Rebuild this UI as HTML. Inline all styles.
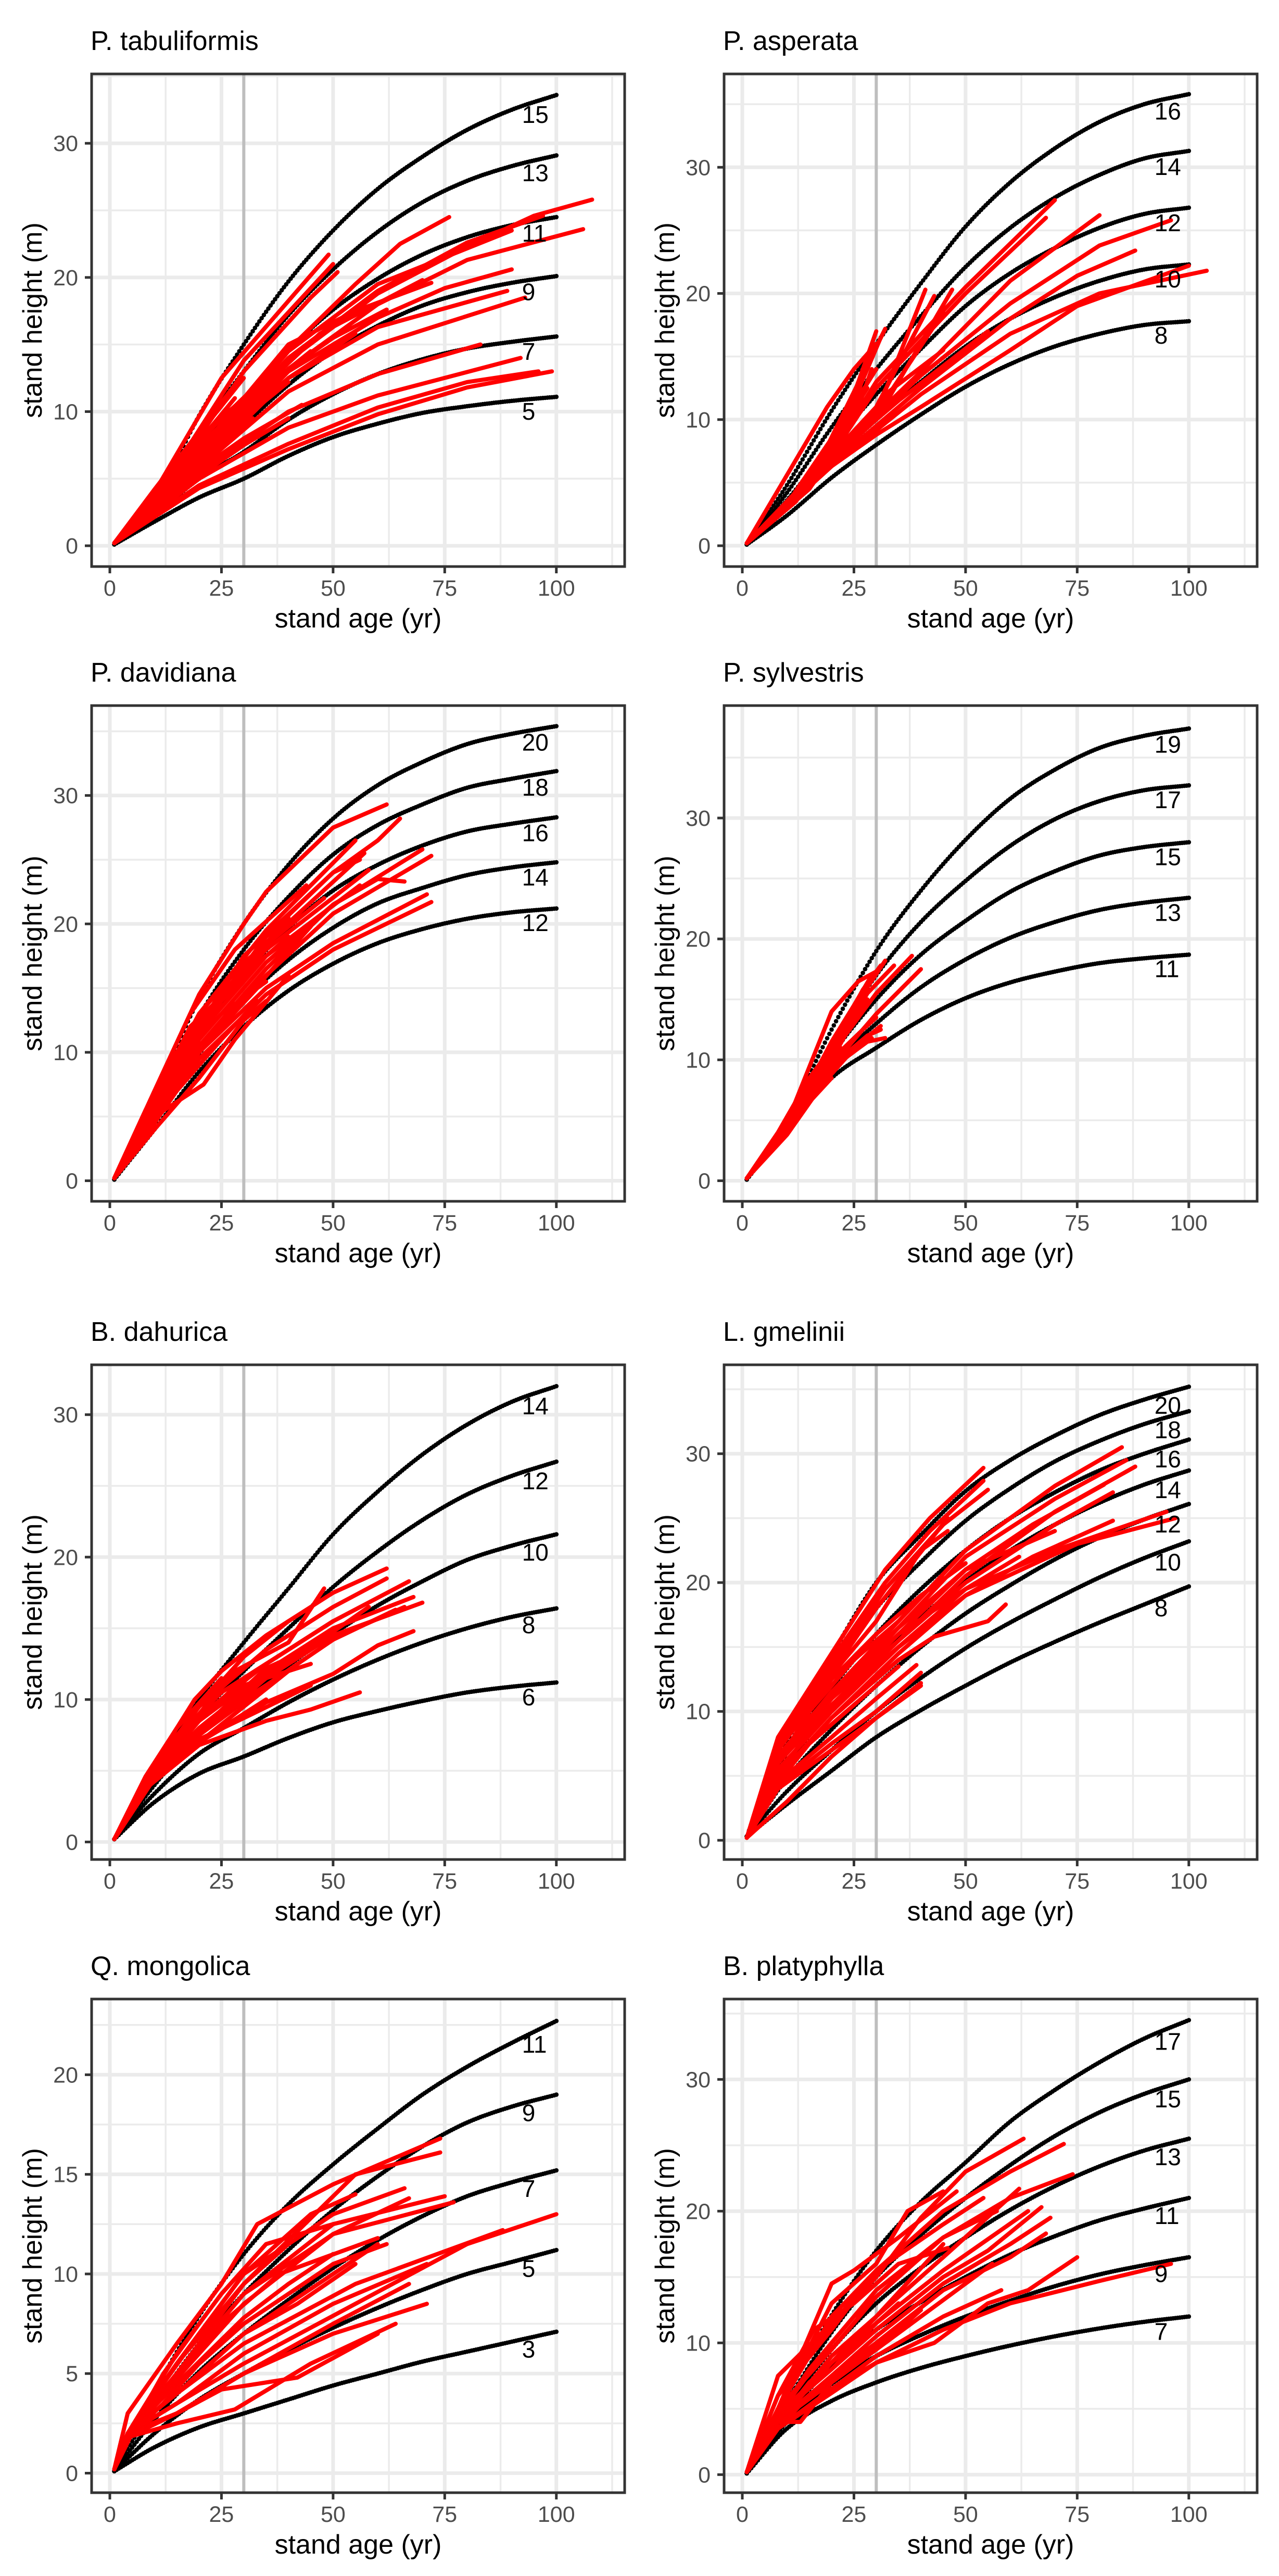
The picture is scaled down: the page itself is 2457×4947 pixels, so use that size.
<!DOCTYPE html>
<html><head><meta charset="utf-8"><title>Site index curves</title>
<style>html,body{margin:0;padding:0;background:#fff}svg{display:block}text{font-family:"Liberation Sans",Arial,sans-serif}</style>
</head><body>
<svg id="fig" xmlns="http://www.w3.org/2000/svg" width="2457" height="4947" viewBox="0 0 2457 4947"></svg>
<script>
// ---- shared data ----
const curveAges=[1,10,20,30,40,50,60,70,80,90,100];
const xTicks=[0,25,50,75,100];
const xMinorTicks=[12.5,37.5,62.5,87.5,112.5];
const refAge=30;

// ---- P. tabuliformis ----
const tabSI=[5,7,9,11,13,15];
const tabCurves=[
[0.1,1.8,3.6,5,6.7,8.1,9.1,9.9,10.4,10.8,11.1],
[0.1,2.3,5.0,7,9.4,11.3,12.8,13.9,14.7,15.2,15.6],
[0.1,2.6,6.2,9,12.0,14.5,16.4,17.9,18.9,19.6,20.1],
[0.1,2.8,7.3,11,14.6,17.6,19.9,21.7,23.0,23.9,24.5],
[0.1,3.0,8.5,13,17.2,20.6,23.4,25.6,27.2,28.3,29.1],
[0.1,3.3,9.7,15,19.7,23.5,26.6,29.0,31.0,32.5,33.6]];
const tabYTicks=[0,10,20,30];
const tabReds=[
[1,.2,10,4,25,12.5,49,21.7],[1,.2,12,4.5,30,13.8,50,21],[1,.2,12,4.2,30,13,45,18.5,51,20.4],
[1,.2,15,5,35,13,55,19.5,65,22.5,76,24.5],[1,.2,20,7,40,13.8,60,18.8,80,22.3,95,24.6,108,25.8],
[1,.2,20,6.5,40,13.2,60,18,80,21.3,106,23.6],[1,.2,20,6.8,40,14,60,19,80,22.6,97,24.6],
[1,.2,20,6.2,40,13,60,17,75,19.2,90,20.6],[1,.2,20,6,40,12.5,60,16.3,89,19],
[1,.2,20,5.8,40,11.5,60,15,93,18.5],[1,.2,20,5.5,40,10,60,12.8,83,15],
[1,.2,20,5,40,8.8,60,11.2,92,14],[1,.2,20,4.5,40,7.6,60,10.3,80,12.2,96,13],
[1,.2,20,4.3,40,7.2,60,9.8,80,11.8,99,13],[1,.2,15,4.5,30,8,43,10.5],
[1,.2,20,7,40,15,55,17.5,72,19.6],[1,.2,20,6.5,35,12,50,15.5,62,17.6],
[1,.2,15,5.5,30,10.5,45,14.5],[1,.2,15,5,30,9.5,40,12.2],[1,.2,15,5.2,30,11,38,13.3],
[1,.2,10,3.5,25,9,35,11.5],[1,.2,15,5,28,9,40,12.5,55,15.8],[1,.2,20,7.5,30,10.5,47,15.8,70,19.8],
[1,.2,15,6,25,9.6,36,12.5],[1,.2,10,3,20,5.8,32,9.5],[1,.2,20,6.8,40,14.5,60,19.5,75,21.5,90,23.5],
[1,.2,8,3,18,7,28,11],[1,.2,8,3.2,18,7.5,30,12.5],[1,.2,10,3.5,20,6.5,30,9],[1,.2,10,3.8,22,8.5,33,12],
[1,.2,10,3,20,5.2,30,7.5,40,9.5],[1,.2,10,4.2,20,8.5,28,12]];

// ---- P. asperata ----
const aspSI=[8,10,12,14,16];
const aspCurves=[
[0.1,2.4,5.4,8,10.4,12.6,14.4,15.8,16.8,17.5,17.8],
[0.1,3.0,6.7,10,13,15.8,18,19.7,21,21.9,22.3],
[0.1,3.6,8.0,12,15.6,19,21.6,23.6,25.2,26.3,26.8],
[0.1,4.2,9.4,14,18.2,22.1,25.2,27.6,29.4,30.7,31.3],
[0.1,4.8,10.7,16,20.8,25.3,28.8,31.5,33.6,35.0,35.8]];
const aspYTicks=[0,10,20,30];
const aspReds=[
[1,.2,15,4.5,30,13,50,20.5,70,27.4],[1,.2,15,4.5,30,12.5,50,20,68,26],[1,.2,20,7,40,13.8,60,21,80,26.2],
[1,.2,20,6.8,40,13.5,60,19.2,80,23.8,96,25.8],[1,.2,20,6.5,40,12.5,60,18,75,21.4,88,23.4],
[1,.2,20,6.3,40,12,60,16.8,80,20,104,21.8],[1,.2,20,6.3,30,8.8,40,11,60,15.5,75,19,100,22.2],
[1,.2,20,7,30,10.5,41,20.3],[1,.2,20,7.2,30,11,43,19.8],[1,.2,20,6.8,30,10,47,20.3],
[1,.2,20,6.8,30,10.5,45,18.5],[1,.2,15,5,25,12,30,17],[1,.2,15,5,25,11.5,31,16.5],
[1,.2,15,4.8,25,10.5,28,15],[1,.2,15,5,25,12.2,32,17.2],[1,.2,15,4.8,25,10,29,14],
[1,.2,15,4.5,22,9,26,13],[1,.2,15,4.5,22,8,27,12],[1,.2,18,6,25,8.5,32,12,45,15.5],
[1,.2,20,7,35,11.5,55,17],[1,.2,19,11,25,14,30,16],[1,.2,12,3.5,20,8,27,13.5],
[1,.2,10,3,20,7.5,27,11],[1,.2,10,3.2,20,8,28,12.5],[1,.2,12,4,22,9.5,30,14],[1,.2,12,3.8,20,7,30,10.5],
[1,.2,10,3.3,20,8.5,26,12.5]];

// ---- P. davidiana ----
const davSI=[12,14,16,18,20];
const davCurves=[
[0.1,4.0,8.5,12,14.8,16.9,18.5,19.6,20.4,20.9,21.2],
[0.1,4.6,9.9,14,17.2,19.7,21.6,22.8,23.8,24.4,24.8],
[0.1,5.3,11.4,16,19.7,22.6,24.6,26.1,27.2,27.8,28.3],
[0.1,5.9,12.8,18,22.1,25.4,27.7,29.3,30.6,31.3,31.9],
[0.1,6.6,14.2,20,24.6,28.2,30.8,32.6,34,34.8,35.4]];
const davYTicks=[0,10,20,30];
const davReds=[
[1,.2,10,7,20,14.5,30,20,35,22.5,50,27.5,62,29.3],[1,.2,10,6,20,12,35,19,50,24,60,26.5,65,28.2],
[1,.2,10,6.5,20,13,35,19.5,55,26.5],[1,.2,10,6,20,12,35,18.5,57,25.5],
[1,.2,10,5,20,10.5,35,16.5,50,21.5,70,25.8],[1,.2,10,5,20,10.5,35,16,50,20.8,72,25.3],
[1,.2,10,5.5,20,11,35,17,50,21.5,60,23.5,66,23.3],[1,.2,10,4.5,20,10,35,15,50,18.5,71,22.3],
[1,.2,10,4.5,20,9.5,35,14.5,50,18,72,21.7],[1,.2,10,6,20,12.5,35,18,58,24.2],
[1,.2,10,5.5,20,11.5,35,17.5,56,23],[1,.2,10,6,20,13,30,17,48,22],[1,.2,10,5,20,10,30,14,45,19.8],
[1,.2,10,6.5,18,12,30,16,40,19],[1,.2,10,4,20,8,30,12.5,35,14],[1,.2,10,5,17,10,25,13,35,15.5],
[1,.2,10,6,15,10,25,14.5,40,20.5],[1,.2,10,5,21,7.5,28,11,40,16],[1,.2,10,5.5,20,12,30,17.5,50,24,56,25],
[1,.2,10,7,18,13,28,18,44,23],
[1,.2,8,4.5,15,8,25,12,33,15],[1,.2,8,5,15,9.5,25,14,33,17],[1,.2,8,4,15,7,25,11,33,14],[1,.2,8,5.5,15,10,22,13,30,16]];

// ---- P. sylvestris ----
const sylSI=[11,13,15,17,19];
const sylCurves=[
[0.1,4.3,8.5,11,13.3,15.1,16.4,17.3,18.0,18.4,18.7],
[0.1,4.5,9.5,13,16,18.3,20.1,21.4,22.4,23.0,23.4],
[0.1,4.7,10.4,15,18.7,21.5,23.9,25.6,26.9,27.6,28.0],
[0.1,4.9,11.3,17,21.4,24.8,27.7,29.9,31.4,32.3,32.7],
[0.1,5.1,12.5,19,24.0,28.2,31.6,34.0,35.8,36.8,37.4]];
const sylYTicks=[0,10,20,30];
const sylReds=[
[1,.2,10,4.5,20,10.5,30,15.5,38,18.6],[1,.2,10,4,20,9.5,30,13.8,40,17.5],[1,.2,10,4.5,20,11,28,16,32,18.2],
[1,.2,10,4.5,20,10.5,28,15.5,34,17.8],[1,.2,10,4.8,20,14,26,16.5,30,17.3],[1,.2,10,4,20,9.5,28,12,31,12.5],
[1,.2,10,4,20,9.3,28,11.5,32,11.8],[1,.2,10,4.3,20,10,27,12.5,30,13.5],[1,.2,10,4.5,20,10.5,26,13.5,28,15],
[1,.2,10,4.2,20,10,26,14],[1,.2,10,4.5,20,11.5,25,14.5,29,17],[1,.2,10,4,18,8.5,25,11,31,12.8],
[1,.2,10,3.8,18,8,24,10.5,29,11.8],[1,.2,10,4.6,20,11,27,15.8,31,17.8],
[1,.2,8,3.5,15,7,22,10],[1,.2,8,3.8,15,7.8,22,11],[1,.2,8,3.3,15,6.5,20,8.5],[1,.2,8,4,15,8.5,22,12]];

// ---- B. dahurica ----
const dahSI=[6,8,10,12,14];
const dahCurves=[
[0.2,2.8,4.8,6,7.3,8.4,9.2,9.9,10.5,10.9,11.2],
[0.2,3.4,6.2,8,9.8,11.4,12.8,14.0,15.0,15.8,16.4],
[0.2,4.0,7.5,10,12.4,14.6,16.6,18.3,19.8,20.8,21.6],
[0.2,4.6,8.8,12,15.0,17.9,20.4,22.6,24.4,25.7,26.7],
[0.2,5.2,10.0,14,17.8,21.6,24.6,27.2,29.3,30.9,32.0]];
const dahYTicks=[0,10,20,30];
const dahReds=[
[1,.2,9,5,19,10,25,12,35,14.5,50,17.5,62,19.2],[1,.2,9,5,20,9.5,35,13.5,50,16.5,62,18.5],
[1,.2,9,4.5,20,8.8,35,12.5,50,15.5,67,18.3],[1,.2,9,4.5,20,8.5,35,12,50,15,68,17.2],
[1,.2,9,4.5,20,8,35,11.5,50,14.5,70,16.8],[1,.2,9,4,20,7,35,9.8,50,11.8,60,13.8,68,14.8],
[1,.2,9,4,20,6.8,35,8.5,45,9.3,56,10.5],[1,.2,9,4.2,20,7.5,35,11,50,14.2,64,16.3],
[1,.2,9,4.5,20,8.5,30,11.5,50,15.5],[1,.2,9,5,20,9.5,30,13,40,15.5],[1,.2,9,4.5,20,8,30,10.5,45,14],
[1,.2,9,4.3,20,7.5,35,11.5,58,16.5],[1,.2,9,4.3,20,7.8,35,12.2,66,16.5],[1,.2,9,4,20,7,30,9.5,42,12.5],
[1,.2,9,4.8,20,9,28,12,40,14,48,17.8],[1,.2,9,4.5,20,8.5,30,11,45,12.5],[1,.2,9,4.2,20,7.2,32,9,45,11],
[1,.2,8,4,15,6.5,25,9,35,11],[1,.2,8,4.3,15,7.5,25,10.5,35,12.5],[1,.2,8,3.8,15,6,25,8,35,10],[1,.2,8,4.6,15,8,25,11.5]];

// ---- L. gmelinii ----
const gmeSI=[8,10,12,14,16,18,20];
const gmeCurves=[
[0.3,2.8,5.4,8,10.1,12.0,13.8,15.4,16.9,18.3,19.7],
[0.3,3.8,7.0,10,12.6,14.9,16.9,18.7,20.4,21.9,23.2],
[0.3,4.8,8.6,12,15.0,17.6,19.8,21.8,23.5,24.9,26.1],
[0.3,5.8,10.2,14,17.3,20.1,22.5,24.5,26.2,27.6,28.7],
[0.3,6.8,11.8,16,19.5,22.5,25.0,27.0,28.7,30.0,31.1],
[0.3,7.7,13.2,18,21.6,24.8,27.3,29.4,31.0,32.3,33.3],
[0.3,8.6,14.4,20,23.7,27.1,29.5,31.4,33.0,34.2,35.2]];
const gmeYTicks=[0,10,20,30];
const gmeReds=[
[1,.2,8,8,20,14.5,32,21,42,25,54,28.9],[1,.2,8,7.5,20,14,32,20,42,24,54,27.9],
[1,.2,8,7,20,13.5,32,19.5,45,24.5,55,27.2],[1,.2,8,7,20,13,30,18,46,25],
[1,.2,8,6.5,20,11.5,35,17,50,22.5,70,27.5,85,30.5],[1,.2,8,6.5,20,11,35,16.5,50,22,70,26.5,86,29.5],
[1,.2,8,6,20,11,35,15.5,50,20.5,70,25.5,88,29],[1,.2,8,6,20,11,35,16,50,21,65,24.5,81,27.6],
[1,.2,8,6,20,10.5,35,15.5,50,20,70,24.5,83,27],[1,.2,8,5.5,20,10,35,15,50,19,65,22,83,24.8],
[1,.2,8,5.5,20,10,35,15,50,19.5,70,22.5,95,25.5],[1,.2,8,5,20,9.5,35,14.5,50,19,75,23,97,25],
[1,.2,8,5,20,9.5,35,14,43,15.8,55,17,59,18.3],[1,.2,8,4,20,7,30,9.5,40,12.2],
[1,.2,8,4.5,20,8,30,11,39,13.6],[1,.2,8,4.2,20,7.5,30,10,40,13],[1,.2,8,6.5,20,11.5,35,16.5,50,21,70,24],
[1,.2,8,6,20,11,35,16,50,19.5,62,22],[1,.2,8,7,20,12.5,30,16,40,19,50,21.5],
[1,.2,8,7.5,18,12,30,17,40,22.5,46,24],[1,.2,10,3,20,6.5,30,9.5,40,12],
[1,.2,8,5,15,8.5,25,12,35,15],[1,.2,8,6,15,10,25,14,35,17],[1,.2,8,7,15,11,25,15.5],
[1,.2,8,4.5,15,7.5,25,10.5,35,13.5],[1,.2,8,6.5,15,9.5,25,13]];

// ---- Q. mongolica ----
const monSI=[3,5,7,9,11];
const monCurves=[
[0.1,1.3,2.3,3,3.7,4.4,5.0,5.6,6.1,6.6,7.1],
[0.1,2.0,3.7,5,6.2,7.3,8.3,9.2,10.0,10.6,11.2],
[0.1,2.7,5.1,7,8.7,10.3,11.7,12.9,13.9,14.6,15.2],
[0.1,3.4,6.5,9,11.2,13.2,14.9,16.4,17.6,18.4,19.0],
[0.1,4.1,7.9,11,13.5,15.5,17.3,19.0,20.4,21.6,22.7]];
const monYTicks=[0,5,10,15,20];
const monReds=[
[1,.2,4,3,15,6.5,25,9.5,33,12.5,50,14.5,74,16.8],[1,.2,4,2,15,5.5,30,9.5,55,15,74,16.1],
[1,.2,4,2,15,5,30,9,50,12.5,75,13.9],[1,.2,4,2,15,4.8,30,8.5,50,12,77,13.6],
[1,.2,4,2,15,5.5,30,10,50,13,66,14.3],[1,.2,4,2,15,5,30,9,50,12,67,13.8],
[1,.2,4,2,15,4,30,7,50,10,60,11.5],[1,.2,4,2,15,4,30,6.5,55,9.5,88,12.2],
[1,.2,4,2,15,3.5,30,5.5,55,8.5,80,11.5,100,13],[1,.2,4,2,15,3.5,30,6,50,8.5,71,10.5],
[1,.2,4,2,15,3,30,5,50,7.5,67,9.5],[1,.2,4,1.8,15,2.5,28,3.2,45,5.5,64,7.5],
[1,.2,4,1.8,15,3,30,5,50,7,71,8.5],[1,.2,4,2,15,4.5,30,7.5,50,10.5,62,11.5],
[1,.2,4,2,15,5.5,30,10,45,13,55,14],[1,.2,4,2,15,5,30,9.5,40,11.5,50,13],
[1,.2,4,2,15,4.5,30,7.8,40,9.5,50,11],[1,.2,4,2,15,3,25,4.2,42,4.8,60,7],
[1,.2,4,2,15,4,30,7,42,8.5,55,10.5],[1,.2,4,2,15,6,25,9,35,11.5,50,12.5],
[1,.2,4,2,15,5,25,7.5,38,10,60,11.8],
[1,.2,5,2,12,4,20,6,30,8.5],[1,.2,5,2.2,12,4.5,20,7,30,10],[1,.2,5,2,12,3.5,20,5.5,30,7.5],[1,.2,5,2.2,12,5,20,7.5]];

// ---- B. platyphylla ----
const plaSI=[7,9,11,13,15,17];
const plaCurves=[
[0.1,3.5,5.6,7,8.1,9.0,9.8,10.5,11.1,11.6,12.0],
[0.1,4.0,6.9,9,10.6,12.0,13.2,14.3,15.2,15.9,16.5],
[0.1,4.5,8.2,11,13.1,15.0,16.7,18.1,19.3,20.2,21.0],
[0.1,5.0,9.5,13,15.7,18.0,20.1,21.9,23.4,24.6,25.5],
[0.1,5.5,10.8,15,18.2,21.0,23.5,25.7,27.5,28.9,30.0],
[0.1,6.0,12.1,17,20.7,23.7,26.8,29.2,31.3,33.1,34.5]];
const plaYTicks=[0,10,20,30];
const plaReds=[
[1,.2,8,7.5,20,11.5,30,15,40,19.5,50,23,63,25.5],[1,.2,8,6,20,11,30,15.5,45,20,60,23,72,25.1],
[1,.2,8,5,20,9.5,30,13.5,45,18,60,21,74,22.8],[1,.2,8,4.5,20,8.5,30,12,45,16.5,62,21.7],
[1,.2,8,4.5,20,8,30,11.5,45,15.5,64,20],[1,.2,8,4.5,20,8,30,11,45,15,55,17,67,20.3],
[1,.2,8,4,20,7.5,30,10.5,45,14.5,60,17.5,69,19.5],[1,.2,8,4,20,7.5,30,10,45,14,60,16.5,68,18.3],
[1,.2,8,3.5,20,6.5,30,8.5,43,10,55,13,64,14,75,16.5],[1,.2,8,3.5,20,6.2,30,8.5,45,11,60,13,80,14.7,96,16],
[1,.2,8,3.5,20,6.5,30,9,45,12,58,14],[1,.2,8,5,20,14.5,25,15.5,35,18,48,21.5],
[1,.2,8,5,20,12,30,15.5,45,19,54,21],[1,.2,8,4.5,20,10,30,14,45,18,57,20],
[1,.2,8,4,20,8.5,30,12,45,17.5],[1,.2,8,4,20,9,30,12,40,15],[1,.2,8,5,20,13,30,16,37,20,45,21.5],
[1,.2,8,4,13,4,20,7,30,9.5,40,12.5],[1,.2,8,6,16,11,25,13,35,16,46,17.2],[1,.2,8,4,20,7,30,9.5,44,13,56,16],
[1,.2,8,4,15,7,25,10,35,13],[1,.2,8,4.5,15,8,25,12,35,15],[1,.2,8,3.5,15,6,25,8.5,35,11],[1,.2,8,5,15,9,25,13.5]];

// ---- layout (positions, not data) ----
const panels=[
 {key:'tabuliformis',title:'P. tabuliformis',col:0,row:0,ymin:-1.55,ymax:35.17,si:tabSI,curves:tabCurves,yt:tabYTicks,reds:tabReds},
 {key:'asperata',title:'P. asperata',col:1,row:0,ymin:-1.65,ymax:37.4,si:aspSI,curves:aspCurves,yt:aspYTicks,reds:aspReds},
 {key:'davidiana',title:'P. davidiana',col:0,row:1,ymin:-1.6,ymax:37.0,si:davSI,curves:davCurves,yt:davYTicks,reds:davReds},
 {key:'sylvestris',title:'P. sylvestris',col:1,row:1,ymin:-1.7,ymax:39.3,si:sylSI,curves:sylCurves,yt:sylYTicks,reds:sylReds},
 {key:'dahurica',title:'B. dahurica',col:0,row:2,ymin:-1.23,ymax:33.5,si:dahSI,curves:dahCurves,yt:dahYTicks,reds:dahReds},
 {key:'gmelinii',title:'L. gmelinii',col:1,row:2,ymin:-1.49,ymax:36.9,si:gmeSI,curves:gmeCurves,yt:gmeYTicks,reds:gmeReds},
 {key:'mongolica',title:'Q. mongolica',col:0,row:3,ymin:-0.98,ymax:23.8,si:monSI,curves:monCurves,yt:monYTicks,reds:monReds},
 {key:'platyphylla',title:'B. platyphylla',col:1,row:3,ymin:-1.37,ymax:36.1,si:plaSI,curves:plaCurves,yt:plaYTicks,reds:plaReds}];
const colLeft=[176,1391], boxW=1024;
const rowTop=[142,1355,2621,3839], rowBot=[1088,2307,3571,4787];
const XMIN=-4.08, XMAX=115.3;

const NS='http://www.w3.org/2000/svg';
const svg=document.getElementById('fig');
function mk(tag,attrs,parent){const e=document.createElementNS(NS,tag);for(const k in attrs)e.setAttribute(k,attrs[k]);(parent||svg).appendChild(e);return e;}

function interp(ages,vals,t){
  let i=0;while(i<ages.length-2&&t>ages[i+1])i++;
  const x0=ages[i],x1=ages[i+1],y0=vals[i],y1=vals[i+1];
  const sl=j=>{if(j<=0)return (vals[1]-vals[0])/(ages[1]-ages[0]);if(j>=ages.length-1)return (vals[j]-vals[j-1])/(ages[j]-ages[j-1]);return (vals[j+1]-vals[j-1])/(ages[j+1]-ages[j-1]);};
  const h=x1-x0,s=(t-x0)/h,m0=sl(i)*h,m1=sl(i+1)*h;
  const s2=s*s,s3=s2*s;
  return (2*s3-3*s2+1)*y0+(s3-2*s2+s)*m0+(-2*s3+3*s2)*y1+(s3-s2)*m1;
}

panels.forEach(p=>{
  const L=colLeft[p.col],R=L+boxW,T=rowTop[p.row],B=rowBot[p.row];
  const xs=v=>L+(v-XMIN)/(XMAX-XMIN)*(R-L);
  const ys=v=>B-(v-p.ymin)/(p.ymax-p.ymin)*(B-T);
  const g=mk('g',{});
  
  
  const t=mk('text',{x:L-2,y:T-46,'font-size':52,fill:'#000'},g);t.textContent=p.title;
  
  
  const bg=mk('rect',{x:L,y:T,width:boxW,height:B-T,fill:'#fff'},g);
  
  
  const grid=mk('g',{},g);
  
  
  xMinorTicks.forEach(v=>mk('line',{x1:xs(v),x2:xs(v),y1:T,y2:B,stroke:'#ebebeb','stroke-width':3.5},grid));
  for(let i=0;i<p.yt.length;i++){const step=p.yt[1]-p.yt[0];const v=p.yt[i]+step/2; if(v<p.ymax) mk('line',{x1:L,x2:R,y1:ys(v),y2:ys(v),stroke:'#ebebeb','stroke-width':3.5},grid);}
  xTicks.forEach(v=>mk('line',{x1:xs(v),x2:xs(v),y1:T,y2:B,stroke:'#ebebeb','stroke-width':7},grid));
  p.yt.forEach(v=>mk('line',{x1:L,x2:R,y1:ys(v),y2:ys(v),stroke:'#ebebeb','stroke-width':7},grid));
  const ref=mk('line',{x1:xs(refAge),x2:xs(refAge),y1:T,y2:B,stroke:'#bebebe','stroke-width':6},g);
  
  
  p.curves.forEach((c,ci)=>{
    const cg=mk('g',{fill:'#000'},g);
    
    
    for(let a=1;a<=100.001;a+=0.5){mk('circle',{cx:xs(a).toFixed(1),cy:ys(interp(curveAges,c,a)).toFixed(1),r:4.3},cg);}
  });
  const rg=mk('g',{fill:'none',stroke:'#ff0000','stroke-width':8,'stroke-linejoin':'round','stroke-linecap':'round'},g);
  
  
  p.reds.forEach(r=>{let pts=[];for(let i=0;i<r.length;i+=2)pts.push(xs(r[i]).toFixed(1)+','+ys(r[i+1]).toFixed(1));
    const pl=mk('polyline',{points:pts.join(' ')},rg);
    
    });
  p.curves.forEach((c,ci)=>{
    const lt=mk('text',{x:xs(92.3),y:ys(interp(curveAges,c,95))+24,'font-size':46,fill:'#000','dominant-baseline':'central'},g);
    lt.textContent=p.si[ci];
    
    
  });
  const border=mk('rect',{x:L,y:T,width:boxW,height:B-T,fill:'none',stroke:'#333','stroke-width':5},g);
  
  
  const xa=mk('g',{},g);
  
  
  xTicks.forEach(v=>{mk('line',{x1:xs(v),x2:xs(v),y1:B,y2:B+13,stroke:'#333','stroke-width':5},xa);
    const tl=mk('text',{x:xs(v),y:B+56,'font-size':43,fill:'#4d4d4d','text-anchor':'middle'},xa);tl.textContent=v;
    
    });
  const xt=mk('text',{x:(L+R)/2,y:B+117,'font-size':52,fill:'#000','text-anchor':'middle'},xa);xt.textContent='stand age (yr)';
  
  
  const ya=mk('g',{},g);
  
  
  p.yt.forEach(v=>{mk('line',{x1:L-13,x2:L,y1:ys(v),y2:ys(v),stroke:'#333','stroke-width':5},ya);
    const tl=mk('text',{x:L-26,y:ys(v)+15,'font-size':43,fill:'#4d4d4d','text-anchor':'end'},ya);tl.textContent=v;
    
    });
  const cy=(T+B)/2;
  const yt=mk('text',{x:L-96,y:cy,'font-size':52,fill:'#000','text-anchor':'middle',transform:'rotate(-90 '+(L-96)+' '+cy+')'},ya);yt.textContent='stand height (m)';
  
  
});
</script>
</body></html>
